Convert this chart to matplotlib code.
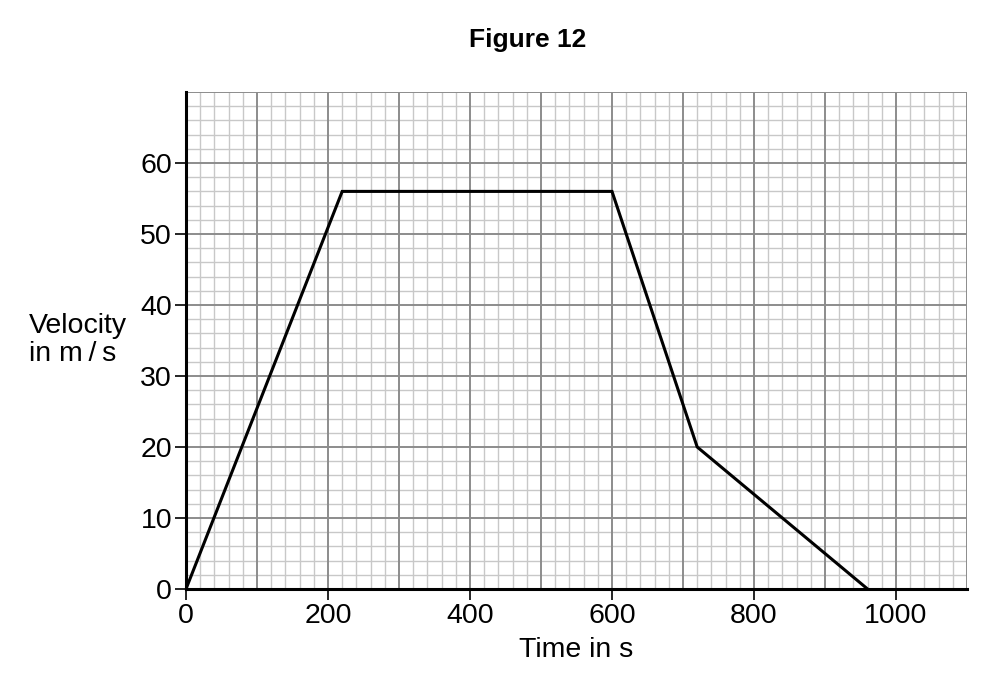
import numpy as np
import matplotlib.pyplot as plt
from matplotlib.ticker import MultipleLocator

time_s = [0, 220, 600, 720, 960]
velocity = [0, 56, 56, 20, 0]
x_ticks = [0, 200, 400, 600, 800, 1000]
y_ticks = [0, 10, 20, 30, 40, 50, 60]

plt.rcParams['font.family'] = ['Liberation Sans', 'DejaVu Sans']

fig = plt.figure(figsize=(9.9, 7.0), dpi=100)
ax = fig.add_axes([186/990, 1 - 589/700, (967 - 186)/990, (589 - 92)/700])

ax.set_xlim(0, 1100)
ax.set_ylim(0, 70)

# graph paper grid
ax.xaxis.set_minor_locator(MultipleLocator(20))
ax.yaxis.set_minor_locator(MultipleLocator(2))
for v in np.arange(0, 1101, 20):
    major = v % 100 == 0
    ax.axvline(v, color='#8c8c8c' if major else '#c8c8c8', lw=1.4 if major else 1.0, zorder=1 if major else 0)
for v in np.arange(0, 71, 2):
    major = v % 10 == 0
    ax.axhline(v, color='#8c8c8c' if major else '#c8c8c8', lw=1.4 if major else 1.0, zorder=1 if major else 0)

ax.plot(time_s, velocity, color='black', lw=2.2, zorder=3, solid_joinstyle='miter')

ax.set_xticks(x_ticks)
ax.set_yticks(y_ticks)
ax.tick_params(which='major', length=8, width=1.2, labelsize=20.5, direction='out', pad=2)
ax.tick_params(which='minor', length=0)

ax.spines['top'].set_visible(False)
ax.spines['right'].set_visible(False)
ax.spines['left'].set_linewidth(2.2)
ax.spines['bottom'].set_linewidth(2.2)
ax.spines['left'].set_zorder(4)
ax.spines['bottom'].set_zorder(4)

ax.set_xlabel('Time in s', fontsize=20.5, labelpad=6)
fig.text(29/990, 1 - 340/700, 'Velocity\nin m\u2009/\u2009s', fontsize=20.5, ha='left', va='center',
         multialignment='left', linespacing=1.1)
fig.text(528/990, 1 - 40/700, 'Figure 12', fontsize=19, fontweight='bold', ha='center', va='center')

fig.savefig('out.png', dpi=100)
